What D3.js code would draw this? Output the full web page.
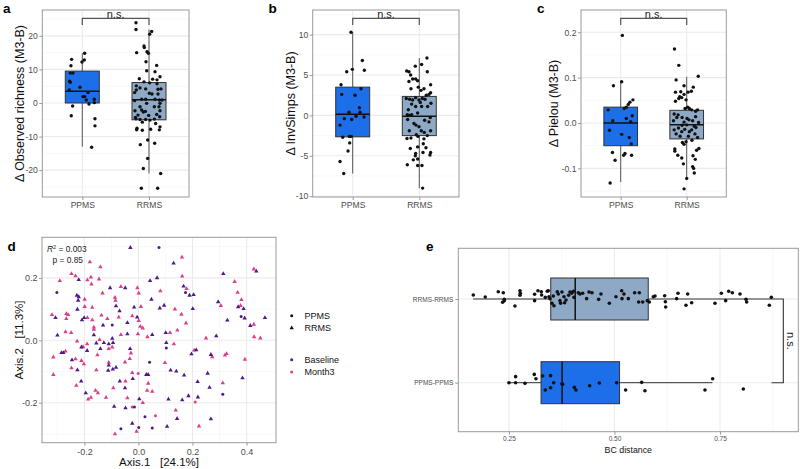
<!DOCTYPE html>
<html><head><meta charset="utf-8">
<script src="https://cdn.jsdelivr.net/npm/d3@7"></script>
<style>body{margin:0;background:#fff}text{font-family:"Liberation Sans",Arial,sans-serif}</style>
</head><body><svg id="c" width="800" height="469"></svg>
<script>
const groups = ["PPMS","RRMS"];
// ---- panel a: observed richness
const richTicks = [-20,-10,0,10,20];
const richPPMS = [13.0,11.1,8.9,8.9,14.8,12.8,12.2,6.5,6.2,4.7,3.9,3.1,1.9,1.9,0.9,1.1,0.1,-0.3,-0.9,-3.8,-4.7,-6.8,-13.2];
const richPPMSJit = [-0.16,-0.17,-0.18,-0.14,0.035,0.03,-0.005,-0.19,-0.18,-0.035,-0.195,0.085,0.01,0.035,0.06,0.18,0.18,0.1,-0.145,-0.165,0.19,0.19,0.14];
const richRRMS = [23.9,21.9,21.3,20.5,15.0,17.0,16.5,15.3,14.8,12.3,11.2,9.6,9.3,7.8,7.2,7.1,6.9,6.3,6.0,5.7,5.1,4.5,4.2,4.1,4.2,3.9,3.1,2.9,2.7,2.7,1.1,1.1,1.1,0.9,0.9,0.7,-0.1,-0.1,-1.1,-1.1,-1.1,-2.3,-2.1,-2.7,-2.5,-2.3,-4.3,-3.6,-3.7,-3.4,-4.1,-4.7,-4.9,-4.9,-5.1,-4.8,-6.1,-5.7,-7.1,-8.0,-7.5,-8.1,-7.8,-8.0,-11.0,-12.0,-12.4,-16.5,-19.5,-21.0,-25.4,-25.4];
const richRRMSJit = [-0.195,-0.195,0.04,0.01,-0.185,-0.075,-0.07,-0.03,-0.01,-0.045,0.115,-0.035,0.09,0.165,-0.145,0.055,0.12,-0.075,0.01,0.12,-0.19,-0.135,-0.05,0.135,0.18,-0.19,-0.215,0.005,0.045,0.135,-0.11,-0.05,0.09,0.155,0.195,-0.215,-0.035,0.165,-0.135,0.08,0.15,-0.21,-0.11,-0.085,-0.055,0.165,-0.205,-0.165,-0.005,0.115,0.16,-0.195,-0.135,-0.05,0.015,0.08,0.1,-0.1,0.165,-0.185,-0.18,-0.1,0.025,0.155,-0.02,0.085,-0.13,-0.02,-0.085,0.175,-0.115,0.13];
const richBoxPPMS = [-13.0,0.0,3.5,9.5,14.8];   // lo, q1, median, q3, hi
const richBoxRRMS = [-21.0,-5.0,1.0,6.1,21.9];
// ---- panel b: InvSimpson
const simpTicks = [-10,-5,0,5,10];
const simpPPMS = [10.3,6.8,5.7,5.4,5.6,3.8,3.3,2.6,2.5,0.4,0.95,0.4,-0.1,-0.2,-0.4,-0.5,-1.2,-2.7,-2.6,-2.6,-3.4,-4.4,-5.7,-7.2];
const simpPPMSJit = [-0.025,0.145,-0.005,-0.09,0.175,-0.175,0.125,-0.165,0.035,-0.055,0.1,0.11,0.05,0.17,-0.125,-0.015,-0.19,-0.15,-0.05,-0.02,-0.045,-0.07,-0.19,-0.135];
const simpRRMS = [7.1,6.3,6.1,5.5,5.4,5.4,5.0,4.5,4.5,4.3,4.2,3.8,3.5,3.3,3.1,3.3,2.5,2.8,2.6,2.1,2.0,1.9,2.2,1.9,2.1,2.0,1.4,1.6,1.5,0.7,1.1,1.1,1.1,0.1,0.0,0.1,0.3,-0.25,-0.5,-1.0,-0.6,-1.2,-1.4,-0.8,-1.9,-1.9,-1.9,-2.1,-2.5,-2.85,-2.4,-2.9,-2.8,-2.6,-3.5,-4.0,-4.1,-3.9,-4.6,-4.6,-4.7,-5.0,-4.9,-5.5,-5.4,-6.1,-6.2,-6.2,-9.0];
const simpRRMSJit = [0.115,0.035,-0.06,-0.19,0.12,-0.155,-0.13,-0.1,-0.055,-0.025,-0.155,0.17,-0.015,-0.125,0.025,0.07,0.105,0.17,0.145,-0.195,-0.145,-0.1,-0.055,-0.005,0.045,0.085,-0.115,0.015,0.175,-0.165,0.125,-0.055,0.035,-0.18,-0.15,-0.115,-0.025,0.165,-0.175,-0.08,0.08,-0.05,-0.005,0.145,0.17,-0.15,0.03,0.075,0.12,-0.185,-0.045,0.07,-0.125,-0.02,0.06,0.1,-0.135,-0.025,0.17,0.055,-0.055,-0.06,0.16,-0.09,-0.025,-0.18,-0.025,0.04,0.05];
const simpBoxPPMS = [-7.2,-2.65,0.15,3.5,10.3];
const simpBoxRRMS = [-9.0,-2.5,-0.1,2.35,7.1];
// ---- panel c: Pielou
const pielTicks = [-0.1,0.0,0.1,0.2];
const pielPPMS = [0.193,0.091,0.082,0.051,0.046,0.041,0.035,0.032,0.029,0.016,0.010,0.005,0.003,-0.016,-0.025,-0.032,-0.046,-0.065,-0.067,-0.071,-0.071,-0.082,-0.132];
const pielPPMSJit = [0.025,0.015,-0.11,0.185,0.14,0.115,0.085,0.055,-0.19,0.175,0.085,-0.12,0.15,-0.17,0.015,0.13,0.16,-0.125,0.065,0.045,0.165,-0.085,-0.16];
const pielRRMS = [0.163,0.127,0.095,0.103,0.082,0.070,0.068,0.068,0.069,0.079,0.058,0.056,0.054,0.063,0.048,0.051,0.035,0.032,0.032,0.029,0.029,0.020,0.018,0.012,0.026,0.010,0.014,0.005,0.012,0.007,0.005,0.002,0.001,-0.005,-0.004,-0.007,-0.011,-0.010,-0.015,-0.014,-0.019,-0.019,-0.015,-0.024,-0.024,-0.029,-0.029,-0.032,-0.043,-0.041,-0.047,-0.038,-0.056,-0.057,-0.062,-0.060,-0.071,-0.072,-0.080,-0.077,-0.090,-0.096,-0.100,-0.110,-0.122,-0.145];
const pielRRMSJit = [-0.185,-0.12,-0.16,0.175,-0.04,0.07,0.02,-0.17,-0.09,0.1,-0.105,-0.075,-0.12,-0.04,-0.17,-0.01,0.015,0.04,-0.025,0.165,0.075,-0.19,-0.13,-0.07,0.135,0.005,0.135,-0.2,-0.15,0.035,0.09,-0.04,0.18,-0.07,0.0,0.115,-0.125,0.14,-0.19,-0.03,-0.075,0.04,0.075,-0.16,0.125,-0.1,0.025,0.165,-0.065,-0.01,-0.04,0.08,0.185,-0.18,-0.18,0.15,-0.135,0.095,0.13,-0.075,-0.05,0.09,0.105,0.115,0.0,-0.04];
const pielBoxPPMS = [-0.130,-0.050,0.0,0.035,0.093];
const pielBoxRRMS = [-0.125,-0.035,-0.004,0.028,0.102];
// ---- panel d: PCoA
const pcoaXTicks = [-0.2,0.0,0.2,0.4];
const pcoaYTicks = [-0.2,0.0,0.2];
const ppmsBaseline = [[-0.302,0.153],[-0.097,0.049],[0.076,0.297],[0.174,0.153],[0.380,0.076],[0.041,-0.070],[-0.015,-0.214],[0.024,-0.245],[-0.065,-0.283],[0.001,-0.279],[0.051,-0.281],[0.103,-0.025],[0.312,-0.173]];
const ppmsMonth3 = [[-0.001,-0.106],[-0.023,-0.214],[0.063,-0.242],[0.210,-0.198]];
const rrmsBaseline = [[-0.030,0.297],[-0.221,0.194],[0.043,0.191],[0.069,0.200],[-0.105,0.168],[-0.049,0.168],[-0.228,0.144],[-0.221,0.139],[-0.223,0.128],[0.048,0.131],[-0.226,0.099],[-0.083,0.110],[-0.070,0.094],[-0.016,0.106],[0.079,0.103],[-0.307,0.072],[-0.209,0.065],[-0.201,0.072],[-0.131,0.048],[-0.041,0.056],[-0.005,0.074],[-0.300,0.016],[-0.165,0.017],[-0.097,0.006],[-0.041,0.020],[0.051,0.018],
[0.130,0.247],[0.314,0.213],[0.436,0.221],[0.167,0.173],[0.189,0.144],[0.204,0.146],[0.095,0.112],[0.201,0.101],[0.295,0.123],[0.369,0.107],[0.389,0.101],[0.393,0.071],[0.329,0.064],[0.468,0.072],[0.101,0.024],[0.414,0.047],[0.288,0.014],
[-0.156,-0.009],[-0.128,-0.008],[-0.110,-0.012],[-0.094,-0.008],[-0.211,-0.022],[-0.190,-0.033],[-0.141,-0.027],[-0.285,-0.040],[-0.278,-0.040],[-0.031,-0.027],[-0.246,-0.063],[-0.110,-0.080],[-0.226,-0.095],[-0.112,-0.097],[-0.095,-0.093],[-0.083,-0.087],[0.029,-0.110],[0.036,-0.110],[-0.021,-0.123],[-0.212,-0.131],[-0.069,-0.131],[-0.050,-0.153],[-0.195,-0.169],[0.003,-0.188],[-0.090,-0.212],[-0.048,-0.217],[-0.023,-0.266],
[0.103,-0.008],[0.214,-0.031],[0.196,-0.044],[0.268,-0.046],[0.119,-0.096],[0.140,-0.099],[0.169,-0.112],[0.256,-0.106],[0.219,-0.133],[0.385,-0.121],[0.263,-0.151],[0.185,-0.178],[0.220,-0.182],[0.111,-0.189],[0.162,-0.191],[0.143,-0.251],[0.268,-0.252],[0.106,-0.276]];
const rrmsMonth3 = [[-0.180,0.251],[-0.141,0.235],[-0.248,0.213],[-0.233,0.206],[-0.176,0.202],[-0.291,0.191],[-0.189,0.193],[-0.146,0.196],[-0.174,0.180],[-0.065,0.172],[-0.004,0.168],[-0.199,0.131],[-0.133,0.151],[-0.087,0.137],[-0.085,0.128],[0.001,0.151],[0.081,0.158],[-0.199,0.108],[-0.171,0.105],[0.009,0.108],[-0.320,0.082],[-0.267,0.085],[-0.260,0.082],[-0.267,0.069],[-0.189,0.072],[-0.171,0.065],[-0.137,0.080],[-0.165,0.042],[-0.165,0.035],[-0.115,0.069],[-0.073,0.074],[-0.023,0.078],[0.001,0.063],[0.007,0.044],[0.016,0.039],[-0.270,0.027],[-0.249,0.024],[-0.065,0.018],[-0.002,0.020],[0.033,0.011],
[0.161,0.266],[0.162,0.205],[0.427,0.228],[0.178,0.165],[0.356,0.188],[0.367,0.153],[0.381,0.130],[0.135,0.100],[0.159,0.083],[0.305,0.111],[0.378,0.111],[0.176,0.055],[0.144,0.032],[0.117,0.024],[0.427,0.051],[0.428,0.011],[0.451,0.007],[0.250,0.007],
[-0.227,-0.003],[-0.190,-0.012],[-0.144,0.002],[-0.205,-0.021],[-0.110,-0.027],[-0.097,-0.022],[-0.270,-0.035],[-0.315,-0.054],[-0.152,-0.047],[-0.028,-0.041],[-0.032,-0.059],[-0.233,-0.060],[-0.211,-0.065],[-0.202,-0.076],[-0.050,-0.070],[-0.110,-0.071],[-0.248,-0.089],[-0.156,-0.095],[-0.315,-0.110],[-0.023,-0.104],[-0.048,-0.131],[0.036,-0.138],[-0.230,-0.145],[-0.093,-0.153],[0.032,-0.161],[-0.159,-0.161],[-0.150,-0.169],[0.051,-0.164],[-0.176,-0.183],[-0.186,-0.189],[-0.120,-0.183],[-0.041,-0.185],[0.016,-0.200],[-0.007,-0.292],[-0.087,-0.300],
[0.131,-0.012],[0.206,-0.032],[0.273,-0.053],[0.320,-0.048],[0.326,-0.043],[0.394,-0.061],[0.098,-0.072],[0.312,-0.137],[0.138,-0.224],[0.224,-0.275]];
// ---- panel e: BC distance
const bcGroups = ["RRMS-RRMS","PPMS-PPMS"];
const bcTicks = [0.25,0.50,0.75];
const bcRRMS = [0.1655,0.1939,0.2247,0.2366,0.2350,0.2389,0.2389,0.2642,0.2761,0.2769,0.2761,0.3108,0.3108,0.3187,0.3266,0.3274,0.3408,0.3432,0.3361,0.3448,0.3472,0.3551,0.3519,0.3566,0.3645,0.3669,0.3709,0.3724,0.3756,0.3803,0.3819,0.3851,0.3914,0.3946,0.3985,0.4025,0.4040,0.4143,0.4182,0.4246,0.4340,0.4396,0.4467,0.4625,0.4680,0.4878,0.5036,0.5170,0.5178,0.5225,0.5328,0.5478,0.5588,0.5573,0.5668,0.5778,0.5825,0.5920,0.5960,0.6189,0.6205,0.6213,0.6473,0.6505,0.6694,0.6734,0.6829,0.7381,0.7532,0.7634,0.7706,0.7792,0.7974,0.8116,0.8132,0.8669,0.8716];
const bcRRMSJit = [-0.048,-0.024,-0.087,-0.075,0.039,0.02,0.004,0.084,-0.099,-0.068,-0.044,-0.056,0.02,-0.099,-0.087,-0.048,-0.092,-0.099,-0.02,-0.027,-0.004,-0.036,0.051,0.08,-0.087,-0.06,0.02,0.051,-0.084,-0.027,0.044,0.012,-0.044,-0.084,-0.068,-0.092,-0.02,-0.075,-0.06,-0.068,-0.004,-0.084,-0.075,0.004,-0.06,0.051,-0.027,-0.099,-0.004,-0.06,-0.004,-0.075,-0.075,0.036,0.036,0.02,0.036,-0.027,-0.036,-0.039,0.032,0.096,-0.004,-0.068,0.075,-0.06,0.044,0.051,-0.068,0.02,-0.092,-0.075,-0.06,0.004,0.036,0.075,-0.02];
const bcPPMS = [0.250,0.2658,0.2879,0.2658,0.3100,0.3140,0.3298,0.3487,0.3559,0.3361,0.3487,0.3756,0.3772,0.4048,0.4088,0.4412,0.4641,0.5051,0.5264,0.5644,0.5722,0.7144,0.7326,0.8053];
const bcPPMSJit = [0,0,0.008,-0.072,-0.099,-0.048,-0.08,-0.084,0,0.087,0.06,0.012,0.02,0.056,0.087,0.036,0.004,0,0.087,-0.004,0.096,0.087,-0.048,0.075];
const bcBoxRRMS = [0.165,0.349,0.407,0.580,0.872];
const bcBoxPPMS = [0.248,0.326,0.376,0.512,0.732];

// ================= drawing =================
const svg = d3.select("#c");
const fillPPMS = "#1c6fe8", fillRRMS = "#8ea9c6";
const gridMajor = "#ebebeb", gridMinor = "#f4f4f4", border = "#9a9a9a", tickCol = "#4d4d4d";
const colBase = "#4d1a8b", colM3 = "#dc3f86";
const hy = s => String(s).replace("\u2212","-");

function panelLabel(t, x, y){
  svg.append("text").attr("x",x).attr("y",y).attr("font-size",13.5).attr("font-weight","bold").attr("fill","#000").text(t);
}

function boxPanel(o){
  const g = svg.append("g");
  const y = d3.scaleLinear().domain(o.domain).range([o.y1,o.y0]);
  const x = d3.scalePoint().domain(groups).range([o.c0,o.c1]);
  const step = o.c1 - o.c0;
  g.selectAll(".mn").data(o.minor).join("line").attr("x1",o.x0).attr("x2",o.x1).attr("y1",d=>y(d)).attr("y2",d=>y(d)).attr("stroke",gridMinor).attr("stroke-width",0.6);
  g.selectAll(".mj").data(o.ticks).join("line").attr("x1",o.x0).attr("x2",o.x1).attr("y1",d=>y(d)).attr("y2",d=>y(d)).attr("stroke",gridMajor).attr("stroke-width",1.1);
  g.selectAll(".vg").data(groups).join("line").attr("x1",d=>x(d)).attr("x2",d=>x(d)).attr("y1",o.y0).attr("y2",o.y1).attr("stroke",gridMajor).attr("stroke-width",1.1);
  const boxes = [[groups[0],o.boxP,fillPPMS],[groups[1],o.boxR,fillRRMS]];
  const bw = 0.51*step;
  boxes.forEach(([k,s,f])=>{
    const cx = x(k);
    g.append("line").attr("x1",cx).attr("x2",cx).attr("y1",y(s[3])).attr("y2",y(s[4])).attr("stroke","#555").attr("stroke-width",1);
    g.append("line").attr("x1",cx).attr("x2",cx).attr("y1",y(s[1])).attr("y2",y(s[0])).attr("stroke","#555").attr("stroke-width",1);
    g.append("rect").attr("x",cx-bw/2).attr("width",bw).attr("y",y(s[3])).attr("height",y(s[1])-y(s[3])).attr("fill",f).attr("stroke","#333").attr("stroke-width",1);
    g.append("line").attr("x1",cx-bw/2).attr("x2",cx+bw/2).attr("y1",y(s[2])).attr("y2",y(s[2])).attr("stroke","#111").attr("stroke-width",1.5);
  });
  const pts = o.valsP.map((v,i)=>({k:groups[0],v,j:o.jitP[i]})).concat(o.valsR.map((v,i)=>({k:groups[1],v,j:o.jitR[i]})));
  g.selectAll(".pt").data(pts).join("circle").attr("cx",d=>x(d.k)+d.j*step).attr("cy",d=>y(d.v)).attr("r",1.7).attr("fill","#111");
  g.append("rect").attr("x",o.x0).attr("y",o.y0).attr("width",o.x1-o.x0).attr("height",o.y1-o.y0).attr("fill","none").attr("stroke",border).attr("stroke-width",1);
  const by = 18.3;
  g.append("path").attr("d",`M${x(groups[0])},25V${by}H${x(groups[1])}V25`).attr("fill","none").attr("stroke","#555").attr("stroke-width",1.2);
  g.append("text").attr("x",(x(groups[0])+x(groups[1]))/2).attr("y",by-0.8).attr("text-anchor","middle").attr("font-size",11).attr("fill","#222").text("n.s.");
  const ya = d3.axisLeft(y).tickValues(o.ticks).tickSize(3).tickFormat(d=>hy(o.fmt(d)));
  const yg = g.append("g").attr("transform",`translate(${o.x0},0)`).call(ya);
  const xa = d3.axisBottom(x).tickSize(3);
  const xg = g.append("g").attr("transform",`translate(0,${o.y1})`).call(xa);
  [yg,xg].forEach(a=>{a.select(".domain").remove(); a.selectAll(".tick line").attr("stroke",border); a.selectAll("text").attr("fill",tickCol).attr("font-size",8.6).attr("font-family","Liberation Sans, Arial, sans-serif");});
  yg.selectAll("text").attr("x",-4.5);
  xg.selectAll("text").attr("y",5);
  g.append("text").attr("transform",`translate(${o.titleX},${(o.y0+o.y1)/2}) rotate(-90)`).attr("text-anchor","middle").attr("dominant-baseline","central").attr("font-size",12.5).attr("fill","#111").text(o.title);
}

boxPanel({x0:42.3,x1:189,y0:10,y1:197,c0:82.3,c1:149,domain:[-28.0,27.7],ticks:richTicks,minor:[-25,-15,-5,5,15,25],
  boxP:richBoxPPMS,boxR:richBoxRRMS,valsP:richPPMS,jitP:richPPMSJit,valsR:richRRMS,jitR:richRRMSJit,fmt:d3.format("d"),title:"Δ Observed richness (M3-B)",titleX:19.5});
boxPanel({x0:312.7,x1:459,y0:10,y1:197,c0:352.7,c1:419.3,domain:[-10.1,13.05],ticks:simpTicks,minor:[-7.5,-2.5,2.5,7.5,12.5],
  boxP:simpBoxPPMS,boxR:simpBoxRRMS,valsP:simpPPMS,jitP:simpPPMSJit,valsR:simpRRMS,jitR:simpRRMSJit,fmt:d3.format("d"),title:"Δ InvSimps (M3-B)",titleX:290.5});
boxPanel({x0:581,x1:726.3,y0:10,y1:197,c0:620.7,c1:686.7,domain:[-0.163,0.249],ticks:pielTicks,minor:[-0.15,-0.05,0.05,0.15],
  boxP:pielBoxPPMS,boxR:pielBoxRRMS,valsP:pielPPMS,jitP:pielPPMSJit,valsR:pielRRMS,jitR:pielRRMSJit,fmt:d3.format(".1f"),title:"Δ Pielou (M3-B)",titleX:554});

panelLabel("a",3,13); panelLabel("b",268.5,13); panelLabel("c",537,12.5);

// ---- panel d
(function(){
  const x0=42,x1=276,y0=237.3,y1=442.7;
  const g = svg.append("g");
  const x = d3.scaleLinear().domain([-0.357,0.509]).range([x0,x1]);
  const y = d3.scaleLinear().domain([-0.328,0.330]).range([y1,y0]);
  const xMinor=[-0.3,-0.1,0.1,0.3], yMinor=[-0.3,-0.1,0.1,0.3];
  g.selectAll(".a").data(xMinor).join("line").attr("x1",d=>x(d)).attr("x2",d=>x(d)).attr("y1",y0).attr("y2",y1).attr("stroke",gridMinor).attr("stroke-width",0.6);
  g.selectAll(".b").data(yMinor).join("line").attr("y1",d=>y(d)).attr("y2",d=>y(d)).attr("x1",x0).attr("x2",x1).attr("stroke",gridMinor).attr("stroke-width",0.6);
  g.selectAll(".c").data(pcoaXTicks).join("line").attr("x1",d=>x(d)).attr("x2",d=>x(d)).attr("y1",y0).attr("y2",y1).attr("stroke",gridMajor).attr("stroke-width",1.1);
  g.selectAll(".d").data(pcoaYTicks).join("line").attr("y1",d=>y(d)).attr("y2",d=>y(d)).attr("x1",x0).attr("x2",x1).attr("stroke",gridMajor).attr("stroke-width",1.1);
  const tri = d3.symbol(d3.symbolTriangle).size(8.5);
  const sets = [[rrmsMonth3,colM3,"t"],[rrmsBaseline,colBase,"t"],[ppmsMonth3,colM3,"c"],[ppmsBaseline,colBase,"c"]];
  sets.forEach(([arr,col,sh])=>{
    if(sh==="t") g.append("g").selectAll("path").data(arr).join("path").attr("d",tri).attr("transform",d=>`translate(${x(d[0])},${y(d[1])})`).attr("fill",col);
    else g.append("g").selectAll("circle").data(arr).join("circle").attr("cx",d=>x(d[0])).attr("cy",d=>y(d[1])).attr("r",1.5).attr("fill",col);
  });
  g.append("rect").attr("x",x0).attr("y",y0).attr("width",x1-x0).attr("height",y1-y0).attr("fill","none").attr("stroke",border).attr("stroke-width",1);
  const xa = g.append("g").attr("transform",`translate(0,${y1})`).call(d3.axisBottom(x).tickValues(pcoaXTicks).tickSize(3).tickFormat(d=>hy(d3.format(".1f")(d))));
  const ya = g.append("g").attr("transform",`translate(${x0},0)`).call(d3.axisLeft(y).tickValues(pcoaYTicks).tickSize(3).tickFormat(d=>hy(d3.format(".1f")(d))));
  [xa,ya].forEach(a=>{a.select(".domain").remove(); a.selectAll(".tick line").attr("stroke",border); a.selectAll("text").attr("fill",tickCol).attr("font-size",9).attr("font-family","Liberation Sans, Arial, sans-serif");});
  xa.selectAll("text").attr("y",5.5); ya.selectAll("text").attr("x",-4.5);
  g.append("text").attr("x",(x0+x1)/2).attr("y",466).attr("text-anchor","middle").attr("font-size",11.5).attr("fill","#111").style("white-space","pre").text("Axis.1   [24.1%]");
  g.append("text").attr("transform",`translate(18.5,${(y0+y1)/2}) rotate(-90)`).attr("text-anchor","middle").attr("dominant-baseline","central").attr("font-size",11.5).attr("fill","#111").style("white-space","pre").text("Axis.2   [11.3%]");
  const r2 = g.append("text").attr("x",47).attr("y",251.5).attr("font-size",8.4).attr("fill","#222");
  r2.append("tspan").attr("font-style","italic").text("R");
  r2.append("tspan").attr("dy",-3).attr("font-size",5.5).text("2");
  r2.append("tspan").attr("dy",3).text(" = 0.003");
  g.append("text").attr("x",52.5).attr("y",262.5).attr("font-size",8.4).attr("fill","#222").text("p = 0.85");
  const lx = 291.7, tx = 304.5;
  g.append("circle").attr("cx",lx).attr("cy",315.7).attr("r",1.5).attr("fill","#111");
  g.append("path").attr("d",tri).attr("transform",`translate(${lx},328)`).attr("fill","#111");
  g.append("circle").attr("cx",lx).attr("cy",359.7).attr("r",1.5).attr("fill",colBase);
  g.append("circle").attr("cx",lx).attr("cy",372).attr("r",1.5).attr("fill",colM3);
  [["PPMS",315.7],["RRMS",328],["Baseline",359.7],["Month3",372]].forEach(([t,yy])=>{
    g.append("text").attr("x",tx).attr("y",yy).attr("dominant-baseline","central").attr("font-size",9).attr("fill","#111").text(t);
  });
})();
panelLabel("d",7.5,251);

// ---- panel e
(function(){
  const x0=458.3,x1=798.3,y0=248.3,y1=431.7;
  const g = svg.append("g");
  const x = d3.scaleLinear().domain([0.130,0.9355]).range([x0,x1]);
  const y = d3.scalePoint().domain(bcGroups).range([299,382.7]);
  const step = 382.7-299;
  const xMinor=[0.375,0.625,0.875];
  g.selectAll(".a").data(xMinor).join("line").attr("x1",d=>x(d)).attr("x2",d=>x(d)).attr("y1",y0).attr("y2",y1).attr("stroke",gridMinor).attr("stroke-width",0.6);
  g.selectAll(".c").data(bcTicks).join("line").attr("x1",d=>x(d)).attr("x2",d=>x(d)).attr("y1",y0).attr("y2",y1).attr("stroke",gridMajor).attr("stroke-width",1.1);
  g.selectAll(".d").data(bcGroups).join("line").attr("y1",d=>y(d)).attr("y2",d=>y(d)).attr("x1",x0).attr("x2",x1).attr("stroke",gridMajor).attr("stroke-width",1.1);
  const bh = 42;
  [[bcGroups[0],bcBoxRRMS,fillRRMS],[bcGroups[1],bcBoxPPMS,fillPPMS]].forEach(([k,s,f])=>{
    const cy = y(k);
    g.append("line").attr("x1",x(s[0])).attr("x2",x(s[1])).attr("y1",cy).attr("y2",cy).attr("stroke","#333").attr("stroke-width",1);
    g.append("line").attr("x1",x(s[3])).attr("x2",x(s[4])).attr("y1",cy).attr("y2",cy).attr("stroke","#333").attr("stroke-width",1);
    g.append("rect").attr("x",x(s[1])).attr("width",x(s[3])-x(s[1])).attr("y",cy-bh/2).attr("height",bh).attr("fill",f).attr("stroke","#333").attr("stroke-width",1);
    g.append("line").attr("x1",x(s[2])).attr("x2",x(s[2])).attr("y1",cy-bh/2).attr("y2",cy+bh/2).attr("stroke","#111").attr("stroke-width",1.5);
  });
  const pts = bcRRMS.map((v,i)=>({k:bcGroups[0],v,j:bcRRMSJit[i]})).concat(bcPPMS.map((v,i)=>({k:bcGroups[1],v,j:bcPPMSJit[i]})));
  g.selectAll(".pt").data(pts).join("circle").attr("cx",d=>x(d.v)).attr("cy",d=>y(d.k)+d.j*step).attr("r",1.8).attr("fill","#111");
  g.append("rect").attr("x",x0).attr("y",y0).attr("width",x1-x0).attr("height",y1-y0).attr("fill","none").attr("stroke",border).attr("stroke-width",1);
  const bx = x(0.9);
  g.append("path").attr("d",`M${x(bcBoxRRMS[4])},${y(bcGroups[0])}H${bx}V${y(bcGroups[1])}H${x(bcBoxRRMS[4])}`).attr("fill","none").attr("stroke","#333").attr("stroke-width",1.1);
  g.append("text").attr("transform",`translate(${bx+3.5},${(y(bcGroups[0])+y(bcGroups[1]))/2}) rotate(90)`).attr("text-anchor","middle").attr("font-size",11).attr("fill","#222").text("n.s.");
  const xa = g.append("g").attr("transform",`translate(0,${y1})`).call(d3.axisBottom(x).tickValues(bcTicks).tickSize(3).tickFormat(d3.format(".2f")));
  const ya = g.append("g").attr("transform",`translate(${x0},0)`).call(d3.axisLeft(y).tickSize(3));
  [xa,ya].forEach(a=>{a.select(".domain").remove(); a.selectAll(".tick line").attr("stroke",border); a.selectAll("text").attr("fill",tickCol).attr("font-size",6.5).attr("font-family","Liberation Sans, Arial, sans-serif");});
  xa.selectAll("text").attr("y",5); ya.selectAll("text").attr("x",-5);
  g.append("text").attr("x",(x0+x1)/2).attr("y",453).attr("text-anchor","middle").attr("font-size",8.8).attr("fill","#111").text("BC distance");
})();
panelLabel("e",426,250.5);
</script></body></html>
